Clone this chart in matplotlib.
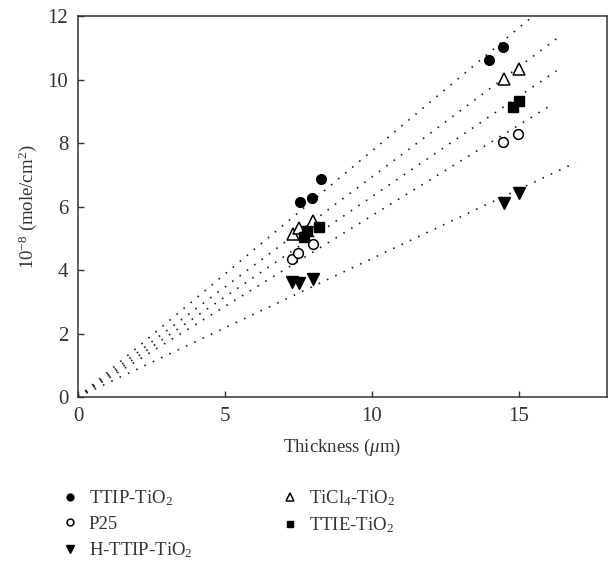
import numpy as np
import matplotlib
matplotlib.use('Agg')
import matplotlib.pyplot as plt

plt.rcParams['font.family'] = ['Liberation Serif', 'DejaVu Serif']
plt.rcParams['mathtext.fontset'] = 'custom'
plt.rcParams['mathtext.rm'] = 'Liberation Serif'
plt.rcParams['mathtext.it'] = 'Liberation Serif:italic'

# adsorbed dye vs film thickness
ttip_x = [7.57, 7.97, 8.27, 13.98, 14.47]
ttip_y = [6.13, 6.28, 6.87, 10.63, 11.03]
ticl4_x = [7.30, 7.51, 7.98, 14.50, 15.00]
ticl4_y = [5.13, 5.33, 5.54, 10.03, 10.34]
ttie_x = [7.70, 7.80, 8.21, 14.80, 15.00]
ttie_y = [5.03, 5.23, 5.36, 9.12, 9.32]
p25_x = [7.28, 7.47, 7.98, 14.47, 14.98]
p25_y = [4.34, 4.52, 4.82, 8.02, 8.27]
httip_x = [7.28, 7.51, 8.00, 14.49, 14.99]
httip_y = [3.63, 3.58, 3.71, 6.10, 6.42]

# linear fits through the origin: slope, end of line
fit_slope = [0.775, 0.693, 0.631, 0.571, 0.436]
fit_xend = [15.45, 16.28, 16.28, 16.17, 16.94]

fig = plt.figure(figsize=(6.1, 5.62), dpi=100)
ax = fig.add_axes([0.128, 0.2936, 0.867, 0.6779])

for s, xe in zip(fit_slope, fit_xend):
    xx = np.linspace(0, xe, 2)
    ax.plot(xx, s * xx, ls=(0, (1, 4.5)), color='#222222', lw=1.2)

ms = 7
h1, = ax.plot(ttip_x, ttip_y, 'o', color='black', ms=ms, ls='none')
h2, = ax.plot(p25_x, p25_y, 'o', mfc='white', mec='black', mew=1.1, ms=ms, ls='none')
h3, = ax.plot(httip_x, httip_y, 'v', color='black', ms=ms + 1, ls='none')
h4, = ax.plot(ticl4_x, ticl4_y, '^', mfc='white', mec='black', mew=1.1, ms=ms + 1, ls='none')
h5, = ax.plot(ttie_x, ttie_y, 's', color='black', ms=ms, ls='none')

ax.set_xlim(0, 18)
ax.set_ylim(0, 12)
ax.set_xticks([0, 5, 10, 15])
ax.set_yticks([0, 2, 4, 6, 8, 10, 12])
ax.tick_params(direction='in', length=4, width=1, labelsize=15, colors='#333333')
ax.tick_params(axis='x', pad=7)
ax.tick_params(axis='y', pad=7)
for sp in ax.spines.values():
    sp.set_color('#333333')
    sp.set_linewidth(1.1)

ax.set_xlabel(r'Thickness ($\mu$m)', fontsize=13.5, color='#333333', labelpad=8)
ax.set_ylabel(r'10$^{-8}$ (mole/cm$^{2}$)', fontsize=13.5, color='#333333', labelpad=6)

fig.legend([h1, h2, h3, h4, h5],
           [r'TTIP-TiO$_2$', 'P25', r'H-TTIP-TiO$_2$', r'TiCl$_4$-TiO$_2$', r'TTIE-TiO$_2$'],
           ncol=2, frameon=False, loc='upper left', bbox_to_anchor=(0.087, 0.144),
           fontsize=13.5, markerscale=0.7, handlelength=1.0, handletextpad=0.5,
           columnspacing=4.7, labelspacing=0.4, borderaxespad=0, labelcolor='#333333')

fig.savefig('out.png', dpi=100)
